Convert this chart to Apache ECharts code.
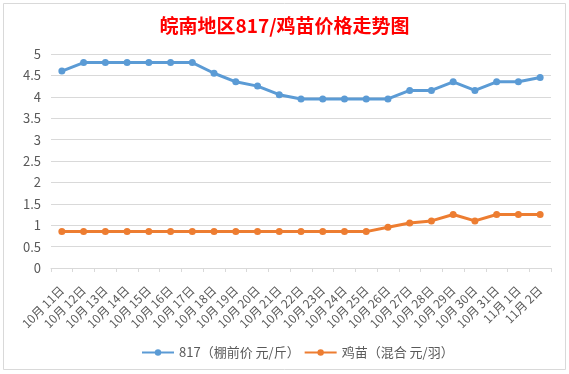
<!DOCTYPE html>
<html><head><meta charset="utf-8">
<script src="https://cdn.jsdelivr.net/npm/echarts@6/dist/echarts.min.js"></script>
<style>html,body{margin:0;padding:0;background:#fff}#c{width:569px;height:374px}</style>
</head><body><div id="c"></div>
<script>
const categories = ['10月 11日','10月 12日','10月 13日','10月 14日','10月 15日','10月 16日','10月 17日','10月 18日','10月 19日','10月 20日','10月 21日','10月 22日','10月 23日','10月 24日','10月 25日','10月 26日','10月 27日','10月 28日','10月 29日','10月 30日','10月 31日','11月 1日','11月 2日'];
const price817 = [4.6,4.8,4.8,4.8,4.8,4.8,4.8,4.55,4.35,4.25,4.05,3.95,3.95,3.95,3.95,3.95,4.15,4.15,4.35,4.15,4.35,4.35,4.45];
const chickPrice = [0.85,0.85,0.85,0.85,0.85,0.85,0.85,0.85,0.85,0.85,0.85,0.85,0.85,0.85,0.85,0.95,1.05,1.1,1.25,1.1,1.25,1.25,1.25];
const seriesNames = ['817（棚前价 元/斤）','鸡苗（混合 元/羽）'];
const chart = echarts.init(document.getElementById('c'));
const font = '"Microsoft YaHei","Noto Sans CJK SC",sans-serif';
chart.setOption({
  animation:false,
  backgroundColor:'#fff',
  graphic:[{type:'rect',shape:{x:3.5,y:3.5,width:562,height:366},style:{fill:'none',stroke:'#d9d9d9',lineWidth:1},silent:true}],
  title:{text:'皖南地区817/鸡苗价格走势图',left:'center',top:11,textStyle:{color:'#ff0000',fontSize:19,fontWeight:'bold',fontFamily:font}},
  legend:{top:341,left:136,itemGap:4,itemWidth:32,itemHeight:8,textStyle:{color:'#595959',fontSize:13,fontFamily:font},data:seriesNames},
  grid:{left:51,right:18,top:54,bottom:106},
  xAxis:{type:'category',data:categories,boundaryGap:true,
    axisLine:{lineStyle:{color:'#d9d9d9'}},axisTick:{show:true,length:4,lineStyle:{color:'#d9d9d9'}},
    axisLabel:{rotate:45,interval:0,color:'#595959',fontSize:12,fontFamily:font,margin:20}},
  yAxis:{type:'value',min:0,max:5,interval:0.5,
    axisLine:{show:false},axisTick:{show:false},
    splitLine:{lineStyle:{color:'#d9d9d9'}},
    axisLabel:{color:'#595959',fontSize:13,fontFamily:font,margin:10}},
  series:[
    {name:seriesNames[0],type:'line',data:price817,symbol:'circle',symbolSize:7,lineStyle:{width:3,color:'#5b9bd5'},itemStyle:{color:'#5b9bd5'}},
    {name:seriesNames[1],type:'line',data:chickPrice,symbol:'circle',symbolSize:7,lineStyle:{width:3,color:'#ed7d31'},itemStyle:{color:'#ed7d31'}}
  ]
});
</script></body></html>
